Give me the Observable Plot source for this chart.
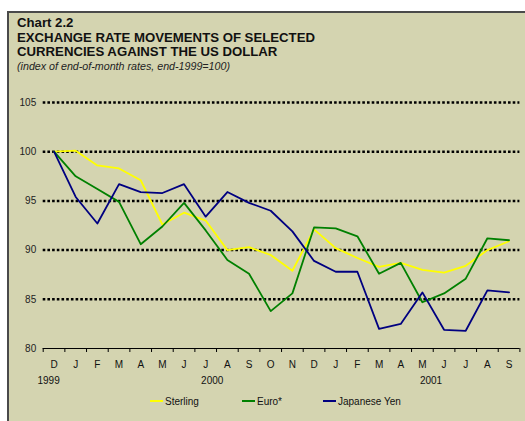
<!DOCTYPE html>
<html><head><meta charset="utf-8">
<script src="https://cdn.jsdelivr.net/npm/d3@7"></script>
<script src="https://cdn.jsdelivr.net/npm/@observablehq/plot@0.6"></script>
<style>
body{margin:0;background:#fff;width:525px;height:421px;overflow:hidden;font-family:"Liberation Sans",Arial,sans-serif;position:relative;}
#box{position:absolute;left:7px;top:11px;width:518px;height:410px;background:#D4D4B0;border-left:2px solid #4a4a4a;border-top:2px solid #4a4a4a;box-sizing:border-box;}
#titles{position:absolute;left:17px;top:16px;color:#111;}
.t1{font-weight:bold;font-size:13.2px;line-height:14.5px;}
.sub{font-style:italic;font-size:10.7px;line-height:12px;margin-top:0px;color:#222;}
#chart{position:absolute;left:0;top:80px;}
.leg{position:absolute;top:396px;font-size:10px;color:#111;line-height:12px;}
.leg i{display:inline-block;width:13px;height:2px;vertical-align:middle;margin-right:2px;position:relative;top:-1px;}
</style></head>
<body>
<div id="box"></div>
<div id="titles">
<div class="t1">Chart 2.2</div>
<div class="t1">EXCHANGE RATE MOVEMENTS OF SELECTED</div>
<div class="t1">CURRENCIES AGAINST THE US DOLLAR</div>
<div class="sub">(index of end-of-month rates, end-1999=100)</div>
</div>
<div id="chart"></div>
<div id="legend"></div>
<script>
const months = ["D","J","F","M","A","M","J","J","A","S","O","N","D","J","F","M","A","M","J","J","A","S"];
const sterling = [100,100.1,98.6,98.3,97.1,92.6,93.8,93.0,90.0,90.3,89.5,87.9,92.1,90.2,89.2,88.3,88.7,88.0,87.7,88.4,90.0,90.9];
const euro = [100,97.5,96.2,94.9,90.6,92.4,94.8,92.0,89.0,87.6,83.8,85.6,92.3,92.2,91.4,87.6,88.7,84.7,85.6,87.1,91.2,91.0];
const yen = [100,95.4,92.7,96.7,95.9,95.8,96.7,93.4,95.9,94.8,94.0,91.9,88.9,87.8,87.8,82.0,82.5,85.7,81.9,81.8,85.9,85.7];
const yearLabels = ["1999","2000","2001"];
const yearAt = [-0.25, 7.3, 17.4];
const yTicks = [80,85,90,95,100,105];
const gridValues = [85,90,95,100,105];
const seriesNames = ["Sterling","Euro*","Japanese Yen"];
const seriesColors = ["#FFFF00","#008000","#000080"];

const idx = months.map((_, i) => i);
const boundaries = d3.range(-0.5, months.length, 1);
const seriesData = [sterling, euro, yen];
const rows = seriesData.flatMap((vals, s) => vals.map((v, i) => ({i, v, s: seriesNames[s]})));
const years = yearLabels.map((label, k) => ({label, at: yearAt[k]}));

const plot = Plot.plot({
  width: 525, height: 341,
  marginLeft: 42.7, marginRight: 5.6, marginTop: 22, marginBottom: 73,
  style: {background: "transparent", fontFamily: '"Liberation Sans",Arial,sans-serif', fontSize: "10px", color: "#111"},
  x: {domain: [-0.5, months.length - 0.5], axis: null},
  y: {domain: [80, 105], axis: null},
  color: {domain: seriesNames, range: seriesColors},
  marks: [
    Plot.ruleY(gridValues, {stroke: "#000", strokeWidth: 2.5, strokeDasharray: "2.6,2.1"}),
    Plot.ruleY([80], {stroke: "#000", strokeWidth: 1}),
    Plot.axisX(boundaries, {tickSize: 4, tickFormat: () => "", stroke: "#000", strokeWidth: 1, label: null}),
    Plot.axisX(idx, {tickSize: 0, tickPadding: 12, tickFormat: i => months[i], fontSize: 10, fill: "#111", label: null}),
    Plot.text(years, {x: "at", y: () => 80, text: "label", dy: 32, fontSize: 10, fill: "#111"}),
    Plot.axisY(yTicks, {tickSize: 0, tickPadding: 7, fontSize: 10, fill: "#222", label: null}),
    Plot.line(rows, {x: "i", y: "v", z: "s", stroke: "s", strokeWidth: 1.8})
  ]
});
document.getElementById("chart").appendChild(plot);

const legendX = [150, 242, 323];
const leg = document.getElementById("legend");
seriesNames.forEach((n, k) => {
  const d = document.createElement("div");
  d.className = "leg";
  d.style.left = legendX[k] + "px";
  d.innerHTML = `<i style="background:${seriesColors[k]}"></i>${n}`;
  leg.appendChild(d);
});
</script>
</body></html>
